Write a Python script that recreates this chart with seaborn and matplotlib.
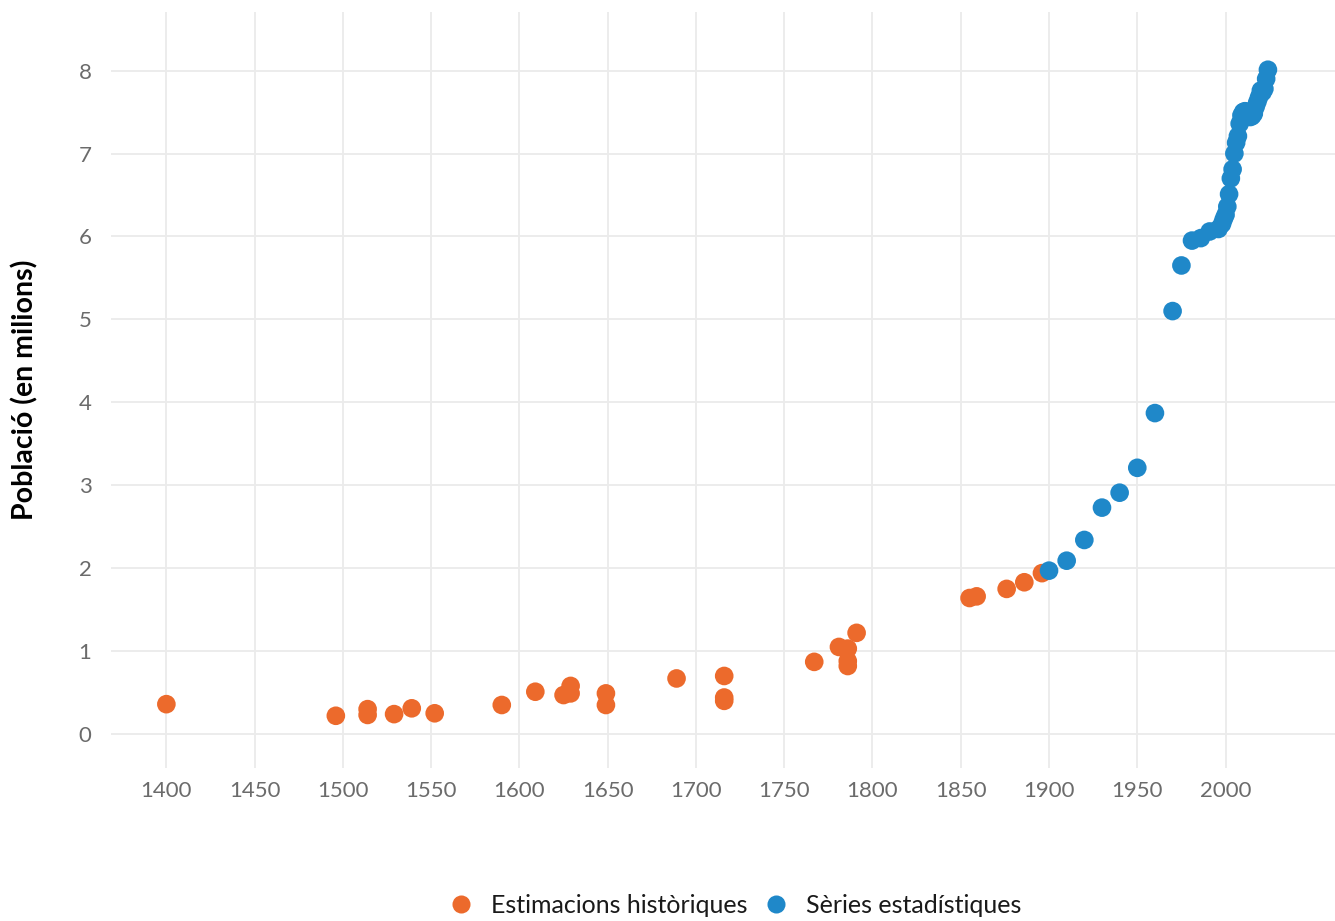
import pandas as pd
import seaborn as sns
from matplotlib import pyplot as plt

# historical estimates (year, population in millions)
hist_years = [1400, 1496, 1514, 1514, 1529, 1539, 1552, 1590, 1609, 1625,
              1629, 1629, 1649, 1649, 1689, 1716, 1716, 1716, 1767, 1781,
              1786, 1786, 1786, 1791, 1855, 1859, 1876, 1886, 1896]
hist_pop = [0.36, 0.22, 0.30, 0.23, 0.24, 0.31, 0.25, 0.35, 0.51, 0.47,
            0.58, 0.49, 0.49, 0.35, 0.67, 0.70, 0.44, 0.40, 0.87, 1.05,
            1.03, 0.88, 0.82, 1.22, 1.64, 1.66, 1.75, 1.83, 1.94]

# statistical series
stat_years = [1900, 1910, 1920, 1930, 1940, 1950, 1960, 1970, 1975, 1981,
              1986, 1991, 1996, 1998, 1999, 2000, 2001, 2002, 2003, 2004,
              2005, 2006, 2007, 2008, 2009, 2010, 2011, 2012, 2013, 2014,
              2015, 2016, 2017, 2018, 2019, 2020, 2021, 2022, 2023, 2024]
stat_pop = [1.97, 2.09, 2.34, 2.73, 2.91, 3.21, 3.87, 5.10, 5.65, 5.95,
            5.98, 6.06, 6.09, 6.15, 6.21, 6.26, 6.36, 6.51, 6.70, 6.81,
            7.00, 7.13, 7.21, 7.36, 7.46, 7.50, 7.51, 7.50, 7.47, 7.44,
            7.45, 7.48, 7.56, 7.62, 7.68, 7.76, 7.74, 7.78, 7.90, 8.01]

labels = ["Estimacions històriques", "Sèries estadístiques"]
colors = ["#ec6a2c", "#1f88c9"]

df = pd.DataFrame({
    "year": hist_years + stat_years,
    "pop": hist_pop + stat_pop,
    "font": [labels[0]] * len(hist_years) + [labels[1]] * len(stat_years),
})

sns.set_theme(style="whitegrid", rc={"grid.color": "#ebebeb", "grid.linewidth": 1.3})
plt.rcParams["font.family"] = ["Lato", "DejaVu Sans"]

fig = plt.figure(figsize=(13.35, 9.21), dpi=100)
ax = fig.add_axes([0.0831, 0.1661, 0.9169, 0.8212])

sns.scatterplot(data=df, x="year", y="pop", hue="font", palette=colors,
                s=180, linewidth=0, alpha=1, ax=ax, legend=False)

ax.set_xlim(1368.6, 2062)
ax.set_ylim(-0.41, 8.71)
ax.set_xticks(range(1400, 2001, 50))
ax.set_yticks(range(0, 9))
ax.tick_params(axis="x", labelsize=16, labelcolor="#6b6b6b", pad=9, length=0)
ax.tick_params(axis="y", labelsize=16, labelcolor="#6b6b6b", pad=14, length=0)
for s in ax.spines.values():
    s.set_visible(False)

ax.set_xlabel("")
ax.set_ylabel("Població (en milions)", fontsize=20.5, fontweight="bold", color="black")
ax.yaxis.set_label_coords(-0.0596, 0.5)

handles = [plt.Line2D([0], [0], marker="o", linestyle="", markersize=13,
                      markerfacecolor=c, markeredgewidth=0) for c in colors]
fig.legend(handles, labels, loc="center", bbox_to_anchor=(734 / 1335, 1 - 905 / 921),
           ncol=2, frameon=False, fontsize=18, handlelength=1.2, handletextpad=0.6,
           columnspacing=0.55, labelcolor="#1a1a1a")

fig.savefig("out.png", dpi=100)
